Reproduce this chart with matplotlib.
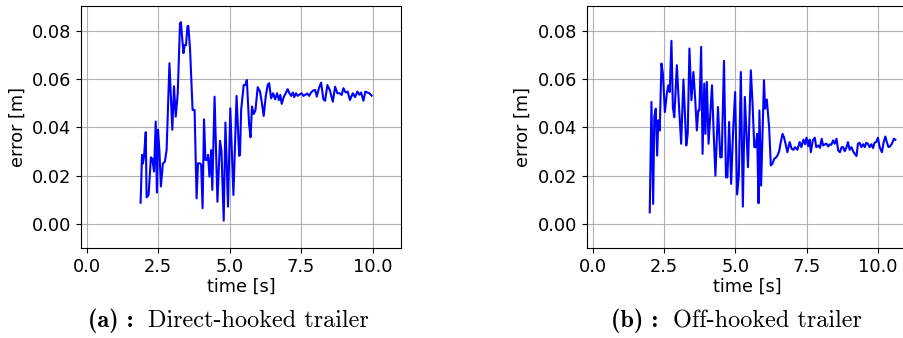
import matplotlib
matplotlib.use("Agg")
import matplotlib.pyplot as plt

# ---- data ----
t_direct = [1.88, 1.93, 1.96, 2.00, 2.06, 2.09, 2.16, 2.24, 2.29, 2.35, 2.41, 2.45, 2.49, 2.54,
            2.59, 2.66, 2.73, 2.79, 2.89, 2.99, 3.05, 3.11, 3.18, 3.26, 3.29, 3.38, 3.42, 3.47,
            3.52, 3.55, 3.61, 3.70, 3.77, 3.84, 3.89, 3.96, 4.00, 4.05, 4.10, 4.15, 4.22, 4.24,
            4.29, 4.35, 4.39, 4.47, 4.57, 4.66, 4.71, 4.79, 4.85, 4.94, 5.02, 5.13, 5.24, 5.33,
            5.36, 5.40, 5.49, 5.55, 5.60, 5.68, 5.73, 5.78, 5.84, 5.90, 5.98, 6.06, 6.12, 6.19,
            6.26, 6.33, 6.38, 6.45, 6.52, 6.59, 6.66, 6.72, 6.77, 6.82, 6.89, 6.96, 7.03, 7.09,
            7.15, 7.21, 7.26, 7.32, 7.38, 7.45, 7.52, 7.58, 7.64, 7.71, 7.78, 7.85, 7.92, 7.99,
            8.05, 8.12, 8.20, 8.28, 8.34, 8.42, 8.51, 8.61, 8.69, 8.77, 8.85, 8.92, 8.98, 9.06,
            9.13, 9.21, 9.31, 9.39, 9.47, 9.54, 9.60, 9.68, 9.75, 9.82, 9.89, 9.97]
e_direct = [0.0088, 0.0286, 0.0250, 0.0280, 0.0380, 0.0110, 0.0120, 0.0276, 0.0270, 0.0217,
            0.0424, 0.0130, 0.0390, 0.0300, 0.0155, 0.0250, 0.0258, 0.0306, 0.0665, 0.0390,
            0.0570, 0.0444, 0.0540, 0.0830, 0.0835, 0.0707, 0.0740, 0.0740, 0.0817, 0.0820,
            0.0727, 0.0472, 0.0472, 0.0106, 0.0251, 0.0251, 0.0245, 0.0065, 0.0433, 0.0265,
            0.0265, 0.0286, 0.0196, 0.0306, 0.0141, 0.0527, 0.0092, 0.0344, 0.0306, 0.0014,
            0.0420, 0.0072, 0.0479, 0.0120, 0.0530, 0.0282, 0.0286, 0.0472, 0.0575, 0.0575,
            0.0596, 0.0410, 0.0359, 0.0486, 0.0455, 0.0470, 0.0566, 0.0548, 0.0506, 0.0447,
            0.0527, 0.0575, 0.0583, 0.0520, 0.0541, 0.0516, 0.0541, 0.0513, 0.0534, 0.0497,
            0.0525, 0.0541, 0.0558, 0.0541, 0.0530, 0.0544, 0.0525, 0.0541, 0.0530, 0.0536,
            0.0541, 0.0530, 0.0534, 0.0540, 0.0530, 0.0544, 0.0552, 0.0555, 0.0527, 0.0560,
            0.0585, 0.0516, 0.0510, 0.0575, 0.0552, 0.0506, 0.0568, 0.0541, 0.0541, 0.0534,
            0.0562, 0.0544, 0.0548, 0.0513, 0.0541, 0.0525, 0.0548, 0.0535, 0.0544, 0.0510,
            0.0548, 0.0544, 0.0541, 0.0531]

t_off = [2.00, 2.06, 2.12, 2.16, 2.21, 2.26, 2.30, 2.35, 2.41, 2.46, 2.53, 2.60, 2.65, 2.70,
         2.76, 2.81, 2.86, 2.95, 3.02, 3.10, 3.18, 3.28, 3.33, 3.39, 3.46, 3.53, 3.59, 3.65,
         3.70, 3.74, 3.80, 3.85, 3.91, 3.95, 4.00, 4.06, 4.13, 4.18, 4.24, 4.30, 4.39, 4.47,
         4.52, 4.60, 4.67, 4.72, 4.78, 4.85, 4.92, 4.99, 5.06, 5.12, 5.19, 5.26, 5.33, 5.44,
         5.54, 5.60, 5.66, 5.71, 5.76, 5.81, 5.84, 5.90, 6.00, 6.04, 6.10, 6.18, 6.24, 6.30,
         6.36, 6.42, 6.47, 6.53, 6.59, 6.65, 6.70, 6.76, 6.82, 6.90, 6.97, 7.03, 7.09, 7.17,
         7.25, 7.31, 7.38, 7.44, 7.49, 7.55, 7.60, 7.64, 7.71, 7.78, 7.83, 7.90, 7.96, 8.02,
         8.07, 8.12, 8.19, 8.25, 8.31, 8.36, 8.42, 8.48, 8.54, 8.60, 8.66, 8.72, 8.77, 8.83,
         8.89, 8.94, 9.00, 9.06, 9.12, 9.18, 9.24, 9.29, 9.35, 9.41, 9.47, 9.53, 9.58, 9.64,
         9.70, 9.76, 9.82, 9.87, 9.93, 9.99, 10.05, 10.13, 10.19, 10.25, 10.30, 10.36, 10.42,
         10.48, 10.55, 10.60]
e_off = [0.0048, 0.0505, 0.0083, 0.0443, 0.0477, 0.0283, 0.0429, 0.0387, 0.0664, 0.0623,
         0.0463, 0.0540, 0.0574, 0.0546, 0.0758, 0.0484, 0.0442, 0.0657, 0.0498, 0.0332,
         0.0598, 0.0325, 0.0373, 0.0726, 0.0512, 0.0629, 0.0519, 0.0387, 0.0470, 0.0470,
         0.0733, 0.0290, 0.0581, 0.0373, 0.0588, 0.0332, 0.0470, 0.0574, 0.0373, 0.0200,
         0.0484, 0.0276, 0.0276, 0.0675, 0.0193, 0.0193, 0.0422, 0.0166, 0.0387, 0.0546,
         0.0122, 0.0200, 0.0629, 0.0072, 0.0526, 0.0235, 0.0636, 0.0498, 0.0318, 0.0318,
         0.0373, 0.0086, 0.0470, 0.0159, 0.0595, 0.0477, 0.0515, 0.0401, 0.0242, 0.0250,
         0.0270, 0.0275, 0.0283, 0.0300, 0.0340, 0.0373, 0.0359, 0.0330, 0.0297, 0.0339,
         0.0311, 0.0307, 0.0318, 0.0307, 0.0339, 0.0318, 0.0349, 0.0330, 0.0357, 0.0322,
         0.0349, 0.0297, 0.0346, 0.0357, 0.0318, 0.0325, 0.0315, 0.0353, 0.0325, 0.0329,
         0.0332, 0.0321, 0.0330, 0.0328, 0.0346, 0.0332, 0.0353, 0.0304, 0.0297, 0.0318,
         0.0318, 0.0301, 0.0318, 0.0339, 0.0307, 0.0318, 0.0301, 0.0290, 0.0281, 0.0332,
         0.0336, 0.0318, 0.0330, 0.0318, 0.0336, 0.0332, 0.0318, 0.0330, 0.0314, 0.0336,
         0.0339, 0.0357, 0.0318, 0.0297, 0.0339, 0.0362, 0.0339, 0.0318, 0.0322, 0.0332,
         0.0353, 0.0349]

x_ticks = [0.0, 2.5, 5.0, 7.5, 10.0]
y_ticks = [0.00, 0.02, 0.04, 0.06, 0.08]
x_label = "time [s]"
y_label = "error [m]"
captions = [("(a) :", "Direct-hooked trailer"), ("(b) :", "Off-hooked trailer")]

# ---- figure ----
W, H = 904, 338
fig = plt.figure(figsize=(W / 100, H / 100), dpi=100)

FS = 12.8
positions = [81, 586.7]
caption_x = [(88, 147.7), (611, 672.7)]
series = [(t_direct, e_direct), (t_off, e_off)]

for i, (t, e) in enumerate(series):
    ax = fig.add_axes([positions[i] / W, (H - 248.3) / H, 320.3 / W, 242.3 / H])
    ax.plot(t, e, color="#0000ff", lw=1.5)
    ax.set_xlim(-0.207, 11.008)
    ax.set_ylim(-0.01006, 0.0902)
    ax.set_xticks(x_ticks)
    ax.set_yticks(y_ticks)
    ax.set_xticklabels([f"{v:.1f}" for v in x_ticks], fontsize=FS)
    ax.set_yticklabels([f"{v:.2f}" for v in y_ticks], fontsize=FS)
    ax.set_xlabel(x_label, fontsize=FS, labelpad=1)
    ax.set_ylabel(y_label, fontsize=FS)
    ax.grid(True, color="#b0b0b0", lw=0.8)
    ax.set_axisbelow(True)

    lab, txt = captions[i]
    fig.text(caption_x[i][0] / W, (H - 327) / H, lab, fontsize=17.5,
             family="cmb10", va="baseline", ha="left")
    fig.text(caption_x[i][1] / W, (H - 327) / H, txt, fontsize=17.5,
             family="cmr10", va="baseline", ha="left")

fig.savefig("out.png", dpi=100)
